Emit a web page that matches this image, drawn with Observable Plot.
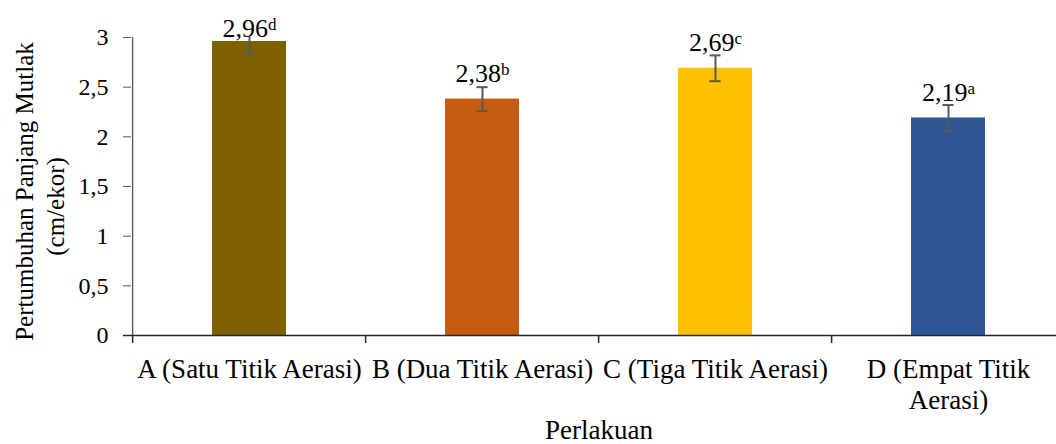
<!DOCTYPE html>
<html>
<head>
<meta charset="utf-8">
<script src="https://cdn.jsdelivr.net/npm/d3@7"></script>
<script src="https://cdn.jsdelivr.net/npm/@observablehq/plot@0.6"></script>
<style>
  html, body { margin: 0; padding: 0; background: #fff; overflow: hidden; }
</style>
</head>
<body>
<div id="chart"></div>
<script>
// Absolute length growth per aeration treatment
const categories = ["A (Satu Titik Aerasi)", "B (Dua Titik Aerasi)", "C (Tiga Titik Aerasi)", "D (Empat Titik Aerasi)"];
const tickLabels = ["A (Satu Titik Aerasi)", "B (Dua Titik Aerasi)", "C (Tiga Titik Aerasi)", "D (Empat Titik\nAerasi)"];
const values = [2.96, 2.38, 2.69, 2.19];
const errors = [0.12, 0.12, 0.13, 0.13];
const notations = ["d", "b", "c", "a"];
const colors = ["#7f6000", "#c55a11", "#ffc000", "#2f5597"];
const yTicks = [0, 0.5, 1, 1.5, 2, 2.5, 3];
const yTitle = ["Pertumbuhan Panjang Mutlak", "(cm/ekor)"];
const xTitle = "Perlakuan";

const data = categories.map((cat, i) => ({cat, value: values[i], err: errors[i], note: notations[i]}));

// layout
const W = 1056, H = 444;
const mL = 131, mR = -10, mT = 37, mB = 109;
const yMax = 3;
const padInner = 0.684;
const step = (W - mL - mR) / categories.length;
const bandwidth = step * (1 - padInner);
const pxPerUnit = (H - mT - mB) / yMax;
const capWidth = 11;
const capInset = (bandwidth - capWidth) / 2;
const comma = v => String(v).replace(".", ",");

// labels sit 17px above the bar, but never above the top of the frame
const labelY = d => Math.min(d.value + 17 / pxPerUnit, yMax + 1 / pxPerUnit);

const errEnds = data.flatMap(d => [
  {cat: d.cat, y: d.value - d.err},
  {cat: d.cat, y: d.value + d.err}
]);

const errColor = "#595959";
const axisColor = "#595959";

const plot = Plot.plot({
  width: W,
  height: H,
  marginLeft: mL,
  marginRight: mR,
  marginTop: mT,
  marginBottom: mB,
  style: {fontFamily: "'Liberation Serif', 'Times New Roman', serif", background: "#fff", color: "#000"},
  x: {domain: categories, paddingInner: padInner, paddingOuter: padInner / 2},
  y: {domain: [0, yMax]},
  color: {domain: categories, range: colors},
  marks: [
    Plot.barY(data, {x: "cat", y: "value", fill: "cat"}),
    // error bars
    Plot.ruleX(data, {x: "cat", y1: d => d.value - d.err, y2: d => d.value + d.err, stroke: errColor, strokeWidth: 2, clip: true}),
    Plot.tickY(errEnds, {x: "cat", y: "y", stroke: errColor, strokeWidth: 2, insetLeft: capInset, insetRight: capInset, clip: true}),
    // y axis line
    Plot.ruleX([categories[0]], {dx: -step / 2, stroke: axisColor, strokeWidth: 1.3}),
    Plot.axisY({ticks: yTicks, tickSize: 8, tickPadding: 15, tickFormat: comma, fontSize: 24, stroke: axisColor, fill: "#000", label: null}),
    // x axis line and category boundary ticks
    Plot.ruleY([0], {stroke: "#262626", strokeWidth: 1.5, insetLeft: -8}),
    Plot.ruleX(categories, {dx: -step / 2, y1: 0, y2: 0, insetBottom: -8, stroke: "#262626", strokeWidth: 1.5}),
    Plot.axisX({tickSize: 0, tickPadding: 20, fontSize: 27, lineHeight: 1.15, fill: "#000", label: null,
      tickFormat: d => tickLabels[categories.indexOf(d)]}),
    // value labels with significance letters
    Plot.text(data, {x: "cat", y: labelY, text: d => comma(d.value) + d.note, lineAnchor: "bottom", fontSize: 26, fill: "#000", ariaDescription: "value-labels"}),
    // axis titles
    Plot.text([yTitle[0]], {frameAnchor: "left", textAnchor: "middle", rotate: -90, dx: -107, dy: 5, fontSize: 25, fill: "#000"}),
    Plot.text([yTitle[1]], {frameAnchor: "left", textAnchor: "middle", rotate: -90, dx: -76, dy: 20, fontSize: 25, fill: "#000"}),
    Plot.text([xTitle], {frameAnchor: "bottom", textAnchor: "middle", dy: 103, lineAnchor: "bottom", fontSize: 27, fill: "#000"})
  ]
});

// raise the significance letter as a superscript
d3.select(plot).selectAll('g[aria-description="value-labels"] text').each(function(i) {
  const d = data[i];
  const t = d3.select(this);
  t.text(null);
  t.append("tspan").text(comma(d.value));
  t.append("tspan").attr("font-size", 17).attr("dy", -7).text(d.note);
});

document.getElementById("chart").append(plot);
</script>
</body>
</html>
